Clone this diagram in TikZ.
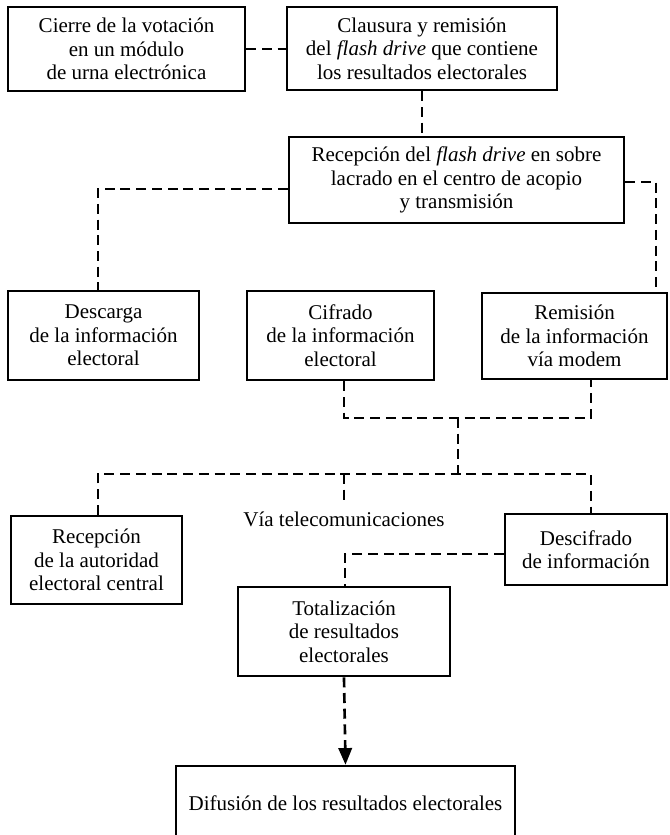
\documentclass[tikz,border=0pt]{standalone}
\usepackage{fontspec}
\setmainfont{Liberation Serif}
\usetikzlibrary{arrows.meta}
\begin{document}
\begin{tikzpicture}[x=0.75pt,y=-0.75pt,
  font=\fontsize{15.75}{17.5}\selectfont,
  box/.style={draw, line width=1.9pt, align=center, inner sep=0pt},
  sz/.style 2 args={minimum width=#1*0.75pt, minimum height=#2*0.75pt},
  link/.style={line width=2pt, dash pattern=on 7.5pt off 4.3pt},
]
\useasboundingbox (0,0) rectangle (670,835);
\clip (0,0) rectangle (670,835);
\fill[white] (0,0) rectangle (670,835);

% process boxes
\node[box, sz={237}{84}] (cierre) at (126.5,49)
  {Cierre de la votación\\en un módulo\\de urna electrónica};
\node[box, sz={270}{83}] (clausura) at (422,48.5)
  {Clausura y remisión\\del \textit{flash drive} que contiene\\los resultados electorales};
\node[box, sz={335}{86}] (recep) at (456.5,180)
  {Recepción del \textit{flash drive} en sobre\\lacrado en el centro de acopio\\y transmisión};
\node[box, sz={191}{89}] (descarga) at (103.5,335.5)
  {Descarga\\de la información\\electoral};
\node[box, sz={187}{89}] (cifrado) at (340.5,335.5)
  {Cifrado\\de la información\\electoral};
\node[box, sz={185}{86}] (remision) at (574.5,336)
  {Remisión\\de la información\\vía modem};
\node[box, sz={171}{88}] (autoridad) at (96.5,560)
  {Recepción\\de la autoridad\\electoral central};
\node[box, sz={162}{71}] (descifrado) at (586,549.5)
  {Descifrado\\de información};
\node[box, sz={212}{89}] (totalizacion) at (344,631.5)
  {Totalización\\de resultados\\electorales};
\node[box, sz={339}{74}] (difusion) at (345.5,803)
  {Difusión de los resultados electorales};

\node[anchor=base, inner sep=0pt] (via) at (344,526) {Vía telecomunicaciones};

% connector bends
\coordinate (lc) at (98,189);
\coordinate (rc) at (656,182);
\coordinate (j1) at (344,418);
\coordinate (j2) at (591,418);
\coordinate (m1) at (458,418);
\coordinate (m2) at (458,474);
\coordinate (d1) at (98,474);
\coordinate (d2) at (591,474);
\coordinate (d3) at (344,474);
\coordinate (d4) at (344,501);
\coordinate (t1) at (345,554);

% connectors
\draw[link] (cierre.east) -- (cierre.east -| clausura.west);
\draw[link] (clausura.south) -- (clausura.south |- recep.north);
\draw[link] (lc -| recep.west) -- (lc) -- (lc |- descarga.north);
\draw[link] (rc -| recep.east) -- (rc) -- (rc |- remision.north);
\draw[link] (j1 |- cifrado.south) -- (j1) -- (j2) -- (j2 |- remision.south);
\draw[link] (m1) -- (m2);
\draw[link] (d1 |- autoridad.north) -- (d1) -- (d2) -- (d2 |- descifrado.north);
\draw[link] (d3) -- (d4);
\draw[link] (t1 -| descifrado.west) -- (t1) -- (t1 |- totalizacion.north);
\draw[link, -{Triangle[length=12.5pt,width=10pt]}] (totalizacion.south) -- (difusion.north);
\end{tikzpicture}
\end{document}
